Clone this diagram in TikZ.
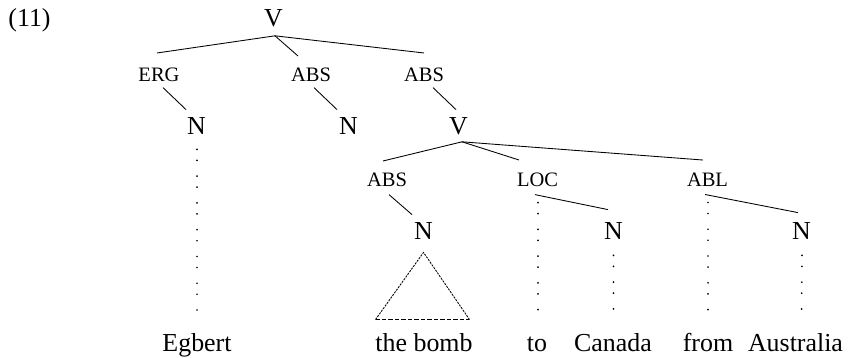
\documentclass[tikz,border=0pt]{standalone}
\usepackage{fontspec}
\setmainfont{Liberation Serif}

\tikzset{
  cat/.style={anchor=base, inner sep=0pt, font=\fontsize{12}{14}\selectfont},
  casetag/.style={anchor=base, inner sep=0pt, font=\fontsize{9.5}{11}\selectfont},
  word/.style={anchor=base, inner sep=0pt, text height=7.9pt, font=\fontsize{12}{14}\selectfont},
  dotline/.style={line width=0.9pt, line cap=round, dash pattern=on 0pt off 5.1pt on 0pt off 7.3pt},
  triside/.style={dash pattern=on 1pt off 0.5pt},
  tribase/.style={dash pattern=on 2pt off 1pt}
}

\begin{document}
\begin{tikzpicture}[x=0.4633pt, y=-0.4633pt]
    \useasboundingbox (0,0) rectangle (853,358);

    % Example number
    \node[cat, anchor=base west] (num) at (8,27) {(11)};

    % Top clause
    \node[cat] (V0) at (273.5,27) {V};
    \node[casetag] (erg) at (159,82) {ERG};
    \node[casetag] (absA) at (311,82) {ABS};
    \node[casetag] (absB) at (424,82) {ABS};
    \node[cat] (nA) at (196.5,135) {N};
    \node[cat] (nB) at (348.5,135) {N};
    \node[cat] (V1) at (458.5,135) {V};

    % Lower clause
    \node[casetag] (absC) at (387,187) {ABS};
    \node[casetag] (loc) at (537.5,187) {LOC};
    \node[casetag] (abl) at (707.5,187) {ABL};
    \node[cat] (nC) at (423.5,240) {N};
    \node[cat] (nD) at (613.5,240) {N};
    \node[cat] (nE) at (801.5,240) {N};

    % Words
    \node[word] (egbert) at (197,352) {Egbert};
    \node[word] (bomb) at (424,352) {the bomb};
    \node[word] (to) at (537,352) {to};
    \node[word] (canada) at (613,352) {Canada};
    \node[word] (from) at (708,352) {from};
    \node[word] (australia) at (795.5,352) {Australia};

    % Branches from the top V
    \draw ([shift={(1.5,8)}]V0.south) -- ([shift={(-2,-15)}]erg.north);
    \draw ([shift={(1.5,8)}]V0.south) -- ([shift={(-13,-12)}]absA.north);
    \draw ([shift={(1.5,8)}]V0.south) -- ([shift={(0,-15)}]absB.north);
    \draw ([shift={(4,5)}]erg.south) -- ([shift={(-10.5,-8)}]nA.north);
    \draw ([shift={(3,5)}]absA.south) -- ([shift={(-11.5,-8)}]nB.north);
    \draw ([shift={(9,5)}]absB.south) -- ([shift={(-2.5,-8)}]V1.north);

    % Branches from the lower V
    \draw ([shift={(3.5,6)}]V1.south) -- ([shift={(-4,-12)}]absC.north);
    \draw ([shift={(3.5,6)}]V1.south) -- ([shift={(-18.5,-13)}]loc.north);
    \draw ([shift={(3.5,6)}]V1.south) -- ([shift={(-4.5,-13)}]abl.north);
    \draw ([shift={(2,7)}]absC.south) -- ([shift={(-11.5,-8)}]nC.north);
    \draw ([shift={(-2.5,7)}]loc.south) -- ([shift={(-5.5,-13)}]nD.north);
    \draw ([shift={(-2.5,7)}]abl.south) -- ([shift={(-3.5,-10)}]nE.north);

    % Dotted links to the words
    \draw[dotline] ([shift={(0.5,14)}]nA.south) -- ([shift={(0,-15)}]egbert.north);
    \draw[dotline] ([shift={(0.5,15)}]loc.south) -- ([shift={(1,-15)}]to.north);
    \draw[dotline] ([shift={(0,15)}]nD.south) -- ([shift={(0.5,-15)}]canada.north);
    \draw[dotline] ([shift={(0.5,15)}]abl.south) -- ([shift={(0,-15)}]from.north);
    \draw[dotline] ([shift={(0.5,15)}]nE.south) -- ([shift={(6,-15)}]australia.north);

    % Triangle over the bomb
    \coordinate (apex) at ([shift={(0,12)}]nC.south);
    \coordinate (baseL) at ([shift={(0.5,-15)}]bomb.north west);
    \coordinate (baseR) at ([shift={(-3.5,-15)}]bomb.north east);
    \draw[triside] (baseL) -- (apex) -- (baseR);
    \draw[tribase] (baseL) -- (baseR);
\end{tikzpicture}
\end{document}
